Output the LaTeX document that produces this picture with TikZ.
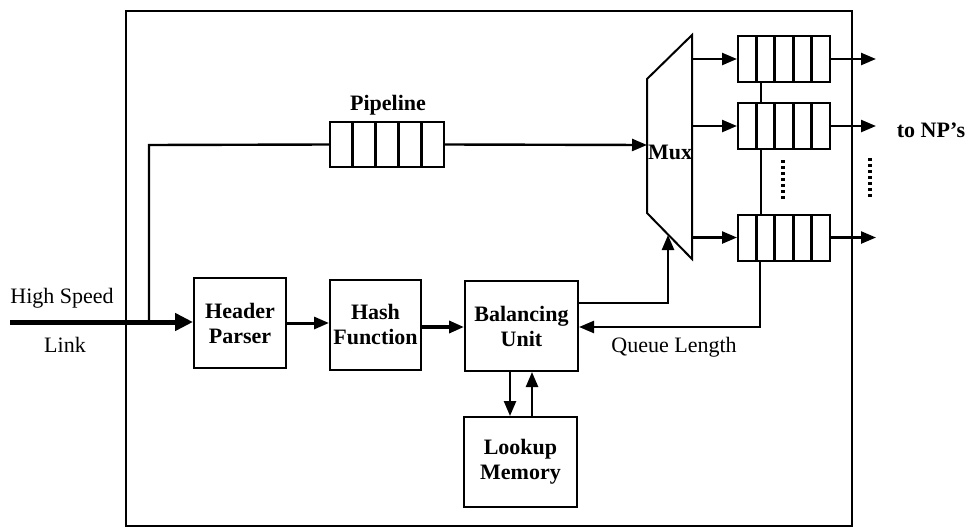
\documentclass[tikz,border=0pt]{standalone}
\usepackage{fontspec}
\setmainfont{Liberation Serif}
\usetikzlibrary{arrows.meta,calc}
\begin{document}
\begin{tikzpicture}[x=1pt,y=-1pt,
  box/.style={draw,line width=2pt,minimum width=#1,minimum height=90pt,inner sep=0pt,align=center,font=\fontsize{22}{25}\selectfont\bfseries},
  qbox/.style n args={2}{draw,line width=2pt,minimum width=#1,minimum height=#2,inner sep=0pt,
    path picture={\foreach \k in {1,...,4}{\draw[line width=3pt] ($(path picture bounding box.south west)!\k/5!(path picture bounding box.south east)$) -- ($(path picture bounding box.north west)!\k/5!(path picture bounding box.north east)$);}}},
  conn/.style={line width=2.4pt,-{Triangle[length=15pt,width=12pt]}},
  plain/.style={line width=2.4pt},
  lbl/.style={font=\fontsize{22}{25}\selectfont},
  blbl/.style={font=\fontsize{22}{25}\selectfont\bfseries}
]
\useasboundingbox (0,0) rectangle (971,530);
% frame
\draw[line width=2.2pt] (126,11) rectangle (852,526);

% boxes
\node[box=92pt] (hp) at (240,323) {Header\\Parser};
\node[box=91pt] (hf) at (375.5,324.5) {Hash\\Function};
\node[box=113pt] (bu) at (521.5,326) {Balancing\\Unit};
\node[box=113pt] (lm) at (520.5,462) {Lookup\\Memory};

% pipeline queue
\node[qbox={114pt}{45pt}] (pq) at (387,144.5) {};
\node[blbl] (pl) at (388,105) {Pipeline};

% output queues
\node[qbox={92pt}{46pt}] (q1) at (784,59) {};
\node[qbox={92pt}{46pt}] (q2) at (784,126) {};
\node[qbox={92pt}{46pt}] (q3) at (784,237.5) {};

% mux
\coordinate (mtl) at (647,79);
\coordinate (mtr) at (692,35);
\coordinate (mbr) at (692,259);
\coordinate (mbl) at (647,213);
\draw[line width=2pt] (mtl) -- (mtr) -- (mbr) -- (mbl) -- cycle;
\node[blbl] (mux) at (670,152) {Mux};
\coordinate (min) at (647,145);
\coordinate (mbot) at (668,235);

% labels
\node[lbl] (hs) at (62,298) {High Speed};
\node[lbl] (lk) at (65,345) {Link};
\node[lbl] (ql) at (674,347) {Queue Length};
\node[blbl] (np) at (931,130) {to NP's};

% link
\coordinate (lin) at (10,322);
\coordinate (split) at (149,322);
\draw[line width=5pt,-{Triangle[length=18pt,width=17pt]}] (lin) -- (hp.west |- lin);
\draw[plain] (split) -- (149,145) -- (pq.west);
\draw[conn] (pq.east) -- (min);

\draw[conn,line width=3pt] (hp.east |- 0,323) -- (hf.west |- 0,323);
\draw[conn,line width=3.5pt] (hf.east |- 0,327) -- (bu.west |- 0,327);
\draw[conn] (bu.east |- 0,303) -| (mbot);

% mux to queues
\draw[conn] (692,59) -- (q1.west);
\draw[conn] (692,126) -- (q2.west);
\draw[conn] (692,237.5) -- (q3.west);

% outputs
\coordinate (o1) at (876,59);
\coordinate (o2) at (876,126);
\coordinate (o3) at (876,237.5);
\draw[conn] (q1.east) -- (o1);
\draw[conn] (q2.east) -- (o2);
\draw[conn] (q3.east) -- (o3);

% queue length feedback
\draw[plain] (q1.south -| 761,0) -- (q2.north -| 761,0);
\draw[plain] (q2.south -| 761,0) -- (q3.north -| 761,0);
\draw[conn] (q3.south -| 760,0) -- (760,327) -- (bu.east |- 0,327);

% balancing <-> lookup
\draw[conn] (bu.south -| 510,0) -- (lm.north -| 510,0);
\draw[conn] (lm.north -| 532,0) -- (bu.south -| 532,0);

% dots
\draw[line width=4pt,dash pattern=on 3pt off 3pt] (783,160) -- (783,200);
\draw[line width=4pt,dash pattern=on 3pt off 3pt] (870,158) -- (870,198);
\end{tikzpicture}
\end{document}
